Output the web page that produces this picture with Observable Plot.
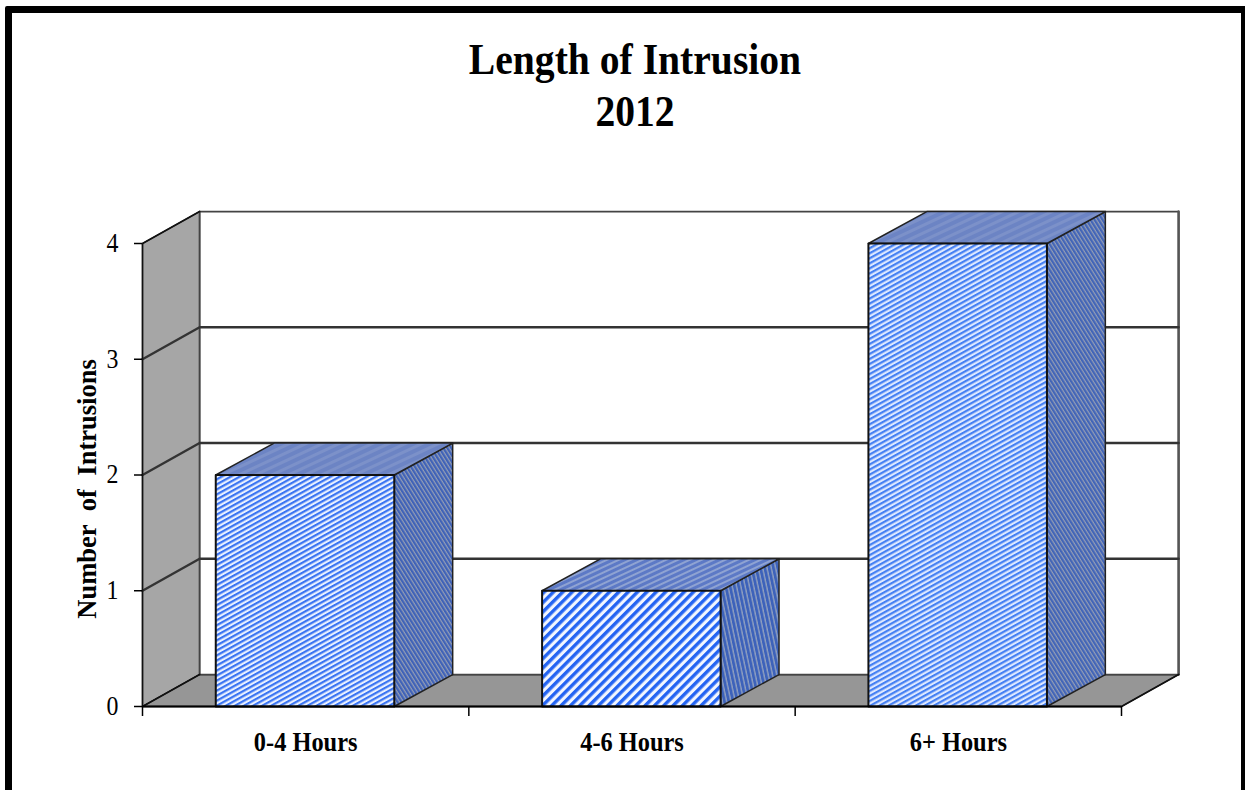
<!DOCTYPE html>
<html><head><meta charset="utf-8">
<style>
html,body{margin:0;padding:0;background:#fff;overflow:hidden}
#page{position:relative;width:1245px;height:790px;overflow:hidden;background:#fff}
#frame{position:absolute;left:5px;top:6px;width:1229px;height:800px;border:7px solid #000;border-radius:2px;pointer-events:none}
#title{position:absolute;left:27px;width:1216px;top:33px;text-align:center;font:bold 45px/52px "Liberation Serif",serif;color:#000;transform:scaleX(.88)}
#chart{position:absolute;left:0;top:190px}
svg{background:transparent!important}
.ylabel text{word-spacing:7px}
</style>
<script src="https://cdn.jsdelivr.net/npm/d3@7"></script>
<script src="https://cdn.jsdelivr.net/npm/@observablehq/plot@0.6"></script>
</head><body>
<div id="page">
<div id="title">Length of Intrusion<br>2012</div>
<div id="chart"></div>
<div id="frame"></div>
</div>
<script>
const categories = ["0-4 Hours", "4-6 Hours", "6+ Hours"];
const intrusions = [2, 1, 4];
const yTicks = [0, 1, 2, 3, 4];
const yLabel = "Number of Intrusions";

// 3-D projection, in data units
const depthX = 0.175, depthY = 0.276, insetL = 0.2245, insetR = 0.2285;
const xMax = categories.length, yMax = 4;

const poly = pts => pts.map(([x, y]) => ({x, y}));
const closed = pts => [...pts, pts[0]];

const wall = closed([[0,0],[depthX,depthY],[depthX,yMax+depthY],[0,yMax]]);
const floor = closed([[0,0],[xMax,0],[xMax+depthX,depthY],[depthX,depthY]]);
const frameLines = closed([[depthX,depthY],[depthX,yMax+depthY],[xMax+depthX,yMax+depthY],[xMax+depthX,depthY]]);

const bars = intrusions.map((v, i) => {
  const a = i + insetL, b = i + 1 - insetR, d = depthX + 0.004;
  return {
    i,
    front: closed([[a,0],[b,0],[b,v],[a,v]]),
    side: closed([[b,0],[b+d,depthY],[b+d,v+depthY],[b,v]]),
    top: closed([[a,v],[b,v],[b+d,v+depthY],[a+d,v+depthY]])
  };
});

const line = (pts, o) => Plot.line(poly(pts), {x:"x", y:"y", ...o});

function stripes(id, size, angle, bg, fg, w) {
  return `<pattern id="${id}" patternUnits="userSpaceOnUse" width="${size}" height="${size}" patternTransform="rotate(${angle})">
    <rect width="${size}" height="${size}" fill="${bg}"/><rect width="${size}" height="${w}" fill="${fg}"/></pattern>`;
}
const defs = () => {
  const g = document.createElementNS("http://www.w3.org/2000/svg", "defs");
  g.innerHTML =
    stripes("front0", 4.4, -29, "#eaf1ff", "#3a74f2", 2.2) +
    stripes("front1", 6.6, -45, "#f2f6ff", "#2464f2", 3.4) +
    stripes("front2", 4.4, -29, "#dfe9ff", "#4580f3", 2.2) +
    stripes("side0", 3.4, 58, "#3f62b8", "#959eb4", 1.2) +
    stripes("side1", 4.2, 78, "#3d62ba", "#8f9fc0", 1.4) +
    stripes("side2", 3.4, 58, "#4265b8", "#959eb4", 1.2) +
    stripes("top0", 7, -25, "#6c84c4", "#7c91c9", 3) +
    stripes("top1", 5, -25, "#5c79c6", "#8fa3d2", 2) +
    stripes("top2", 7, -25, "#6c84c4", "#7c91c9", 3);
  return g;
};

const chart = Plot.plot({
  width: 1245, height: 600,
  marginLeft: 142, marginRight: 124, marginTop: 53, marginBottom: 84,
  x: {type: "linear", domain: [0, xMax], axis: null},
  y: {type: "linear", domain: [0, yMax], axis: null},
  style: {background: "transparent"},
  marks: [
    defs,
    line(wall, {fill: "#a6a6a6", stroke: "#222", strokeWidth: 1.3}),
    line(floor, {fill: "#969696", stroke: "#222", strokeWidth: 1.3}),
    line(frameLines, {stroke: "#444", strokeWidth: 1.8}),
    line([[xMax+depthX,depthY],[xMax+depthX,yMax+depthY]], {stroke: "#555", strokeWidth: 2.4}),
    ...yTicks.slice(1, -1).map(t => line([[0,t],[depthX,t+depthY],[xMax+depthX,t+depthY]], {stroke: "#333", strokeWidth: 2.4})),
    line([[0,yMax],[depthX,yMax+depthY]], {stroke: "#111", strokeWidth: 1.8}),
    line([[0,0],[depthX,depthY]], {stroke: "#111", strokeWidth: 1.8}),
    line([[xMax,0],[xMax+depthX,depthY]], {stroke: "#111", strokeWidth: 1.8}),
    ...bars.flatMap(b => [
      line(b.side, {fill: `url(#side${b.i})`, stroke: "#222", strokeWidth: 1.5}),
      line(b.top, {fill: `url(#top${b.i})`, stroke: "#222", strokeWidth: 1.5}),
      line(b.front, {fill: `url(#front${b.i})`, stroke: "#111", strokeWidth: 2})
    ]),
    Plot.ruleX([0], {y1: 0, y2: yMax, stroke: "#111", strokeWidth: 1.6}),
    Plot.ruleY([0], {x1: 0, x2: xMax, stroke: "#000", strokeWidth: 2}),
    Plot.axisX({ticks: d3.range(xMax + 1), tickSize: 10, tickFormat: () => "", label: null, stroke: "#000", strokeWidth: 1.5}),
    Plot.axisY({ticks: yTicks, tickSize: 8, tickPadding: 16, label: null, tickFormat: d3.format("d"),
      fontSize: 26.5, fontFamily: "Liberation Serif", stroke: "#000", strokeWidth: 1.5, className: "ytick"}),
    Plot.text(categories, {x: (d, i) => i + 0.5, y: () => 0, text: d => d, dy: 36,
      fontFamily: "Liberation Serif", fontWeight: "bold", fontSize: 26.5, fill: "#000", className: "xcat"}),
    Plot.text([yLabel], {x: () => 0, y: () => yMax / 2, text: d => d, dx: -55, dy: 14, rotate: -90,
      fontFamily: "Liberation Serif", fontWeight: "bold", fontSize: 26.5, fill: "#000", className: "ylabel"})
  ]
});
document.getElementById("chart").append(chart);
// condense glyphs of the axis labels to the reference's narrow proportions
const squeeze = (sel, k) => chart.querySelectorAll(sel).forEach(t => {
  t.setAttribute("textLength", t.getComputedTextLength() * k);
  t.setAttribute("lengthAdjust", "spacingAndGlyphs");
});
squeeze(".xcat text", 0.92);
squeeze(".ytick text", 0.9);
</script>
</body></html>
